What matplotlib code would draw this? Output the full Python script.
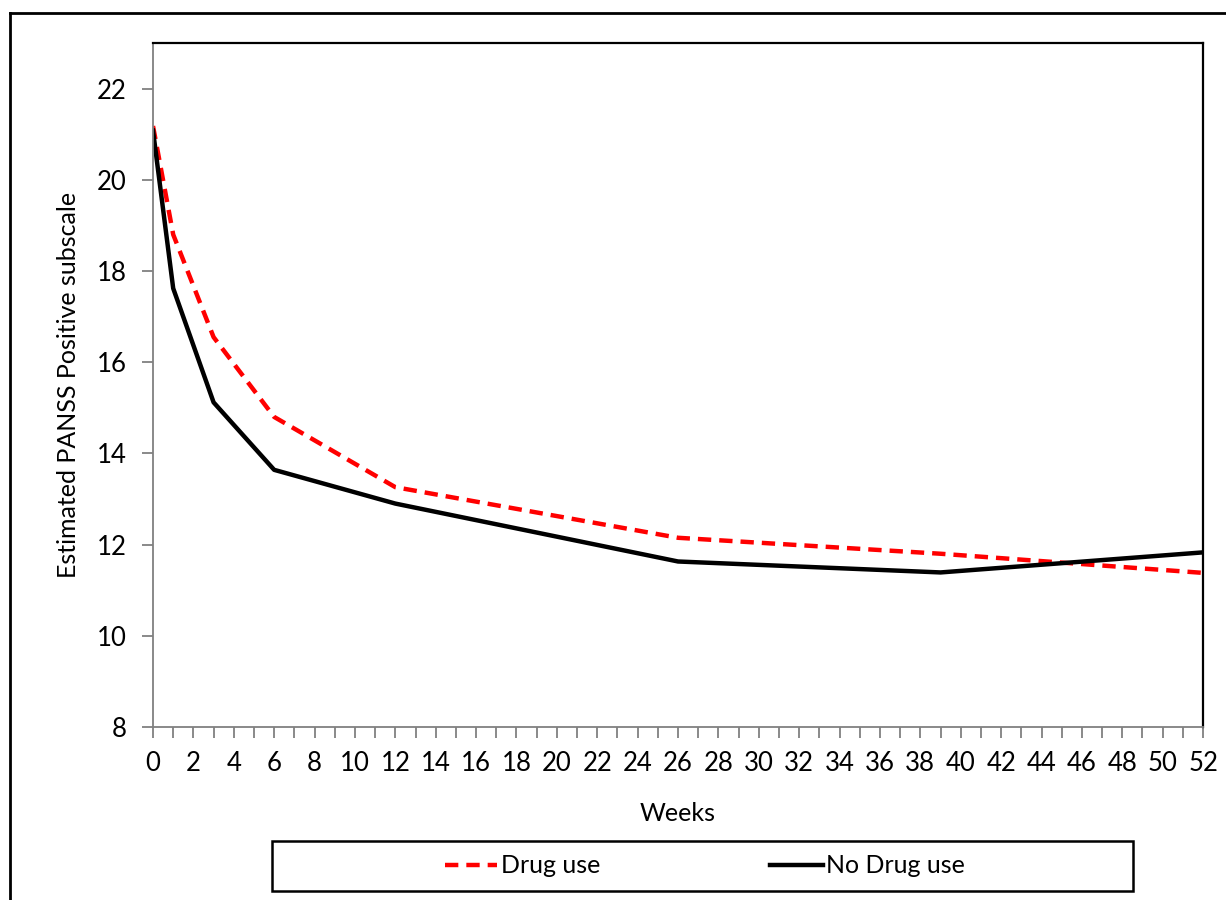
import matplotlib.pyplot as plt
from matplotlib.lines import Line2D
from matplotlib.patches import Rectangle

plt.rcParams['font.family'] = ['Lato', 'DejaVu Sans']

# data
weeks = [0, 1, 3, 6, 12, 26, 39, 52]
drug_use = [21.18, 18.8, 16.55, 14.8, 13.26, 12.15, 11.8, 11.38]
no_drug_use = [21.08, 17.62, 15.12, 13.64, 12.9, 11.63, 11.39, 11.83]

fig = plt.figure(figsize=(12.26, 9), dpi=100)
ax = fig.add_axes([0.1248, 0.1922, 0.8565, 0.76])

ax.plot(weeks, drug_use, color='#ff0000', lw=3.2, ls=(0, (3, 1.8)), label='Drug use')
ax.plot(weeks, no_drug_use, color='black', lw=3.2, label='No Drug use')

ax.set_xlim(0, 52)
ax.set_ylim(8, 23)
ax.set_xticks(range(0, 53, 2))
ax.set_xticks(range(0, 53, 1), minor=True)
ax.set_yticks(range(8, 23, 2))

for side in ['left', 'bottom']:
    ax.spines[side].set_color('#808080')
    ax.spines[side].set_linewidth(1.3)
for side in ['top', 'right']:
    ax.spines[side].set_color('black')
    ax.spines[side].set_linewidth(1.6)

ax.tick_params(axis='both', which='both', direction='out', color='#808080', width=1.3,
               labelsize=18.5, colors='#808080', labelcolor='black')
ax.tick_params(axis='x', which='both', length=8, pad=9)
ax.tick_params(axis='y', which='major', length=8, pad=11)

ax.set_xlabel('Weeks', fontsize=18, labelpad=19)
ax.set_ylabel('Estimated PANSS Positive subscale', fontsize=18, labelpad=12)

# legend box drawn as its own frame, entries centred inside it
fig.add_artist(Rectangle((272 / 1226, 1 - 891 / 900), 861 / 1226, 50 / 900,
                         transform=fig.transFigure, fill=False, edgecolor='black', lw=1.8))
leg = ax.legend(loc='center', bbox_to_anchor=(0.575, 0.0378), bbox_transform=fig.transFigure,
                ncol=2, fontsize=18, frameon=False,
                handlelength=2.1, handletextpad=0.15, columnspacing=6.8)

# outer border of the picture
fig.add_artist(Line2D([10 / 1226, 10 / 1226], [0, 1 - 13 / 900], color='black', lw=2,
                      transform=fig.transFigure))
fig.add_artist(Line2D([10 / 1226, 1], [1 - 13 / 900, 1 - 13 / 900], color='black', lw=2,
                      transform=fig.transFigure))

fig.savefig('out.png', dpi=100)
